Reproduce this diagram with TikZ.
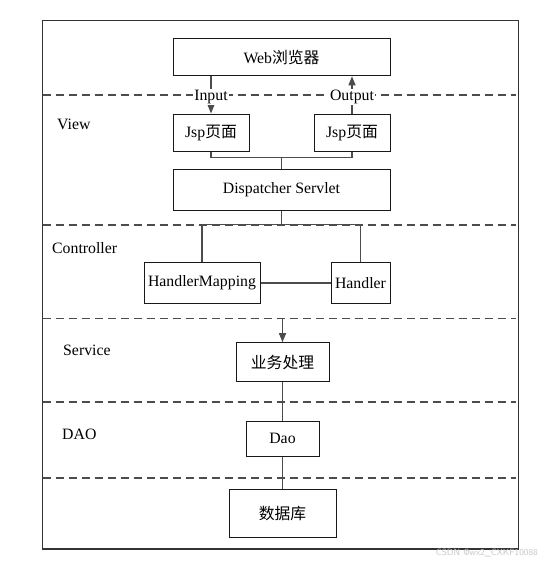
\documentclass[tikz,border=0pt]{standalone}
\usepackage{fontspec}
\setmainfont{Liberation Serif}
\newfontfamily\cjk{Noto Sans CJK SC}
\usetikzlibrary{arrows.meta}
\begin{document}
\begin{tikzpicture}[x=1pt,y=-1pt,
  every node/.style={font=\fontsize{15.8}{18}\selectfont},
  box/.style={draw=black!90,line width=1pt,inner sep=0pt,fill=white},
  conn/.style={draw=black!70,line width=1.3pt},
  arr/.style={conn,-{Triangle[length=9pt,width=7pt]}},
  sep/.style={draw=black!70,line width=1.1pt,dash pattern=on 8pt off 5pt},
  lay/.style={anchor=west,inner sep=0pt},
  lab/.style={fill=white,inner sep=1pt}]
\useasboundingbox (0,0) rectangle (540,566);
% frame
\draw[draw=black!80,line width=1.3pt] (42.6,20.5) rectangle (518.5,549);
% dashed separators
\draw[sep] (42.6,95) -- (516,95);
\draw[sep] (42.6,225) -- (516,225);
\draw[sep] (42.6,318.5) -- (516,318.5);
\draw[sep] (42.6,402) -- (516,402);
\draw[sep] (42.6,478) -- (516,478);
% boxes
\node[box,minimum width=217pt,minimum height=37pt] (web) at (281.5,57.3) {Web{\cjk 浏览器}};
\node[box,minimum width=76pt,minimum height=37pt] (jsp1) at (211,132.5) {Jsp{\cjk 页面}};
\node[box,minimum width=76pt,minimum height=37pt] (jsp2) at (352,132.5) {Jsp{\cjk 页面}};
\node[box,minimum width=217pt,minimum height=41pt] (ds) at (281.5,189.5) {Dispatcher Servlet};
\node[box,minimum width=116pt,minimum height=41pt] (hm) at (202,283) {HandlerMapping};
\node[box,minimum width=59pt,minimum height=41pt] (hd) at (360.5,283) {Handler};
\node[box,minimum width=93pt,minimum height=39pt] (svc) at (282.5,362.2) {\cjk 业务处理};
\node[box,minimum width=73pt,minimum height=34.5pt] (dao) at (282.5,438.8) {Dao};
\node[box,minimum width=107pt,minimum height=48pt] (db) at (282.5,513.5) {\cjk 数据库};
% layer labels
\node[lay] (lview) at (57,124) {View};
\node[lay] (lctl) at (52,248) {Controller};
\node[lay] (lsvc) at (63,350) {Service};
\node[lay] (ldao) at (62,434) {DAO};
% connectors
\draw[arr] (web.south -| jsp1.north) -- (jsp1.north);
\draw[arr] (jsp2.north) -- (web.south -| jsp2.north);
\node[lab] (in) at (211,97) {Input};
\node[lab] (out) at (352,97) {Output};
\coordinate (jbar) at (281.5,157.5);
\draw[conn] (jsp1.south) |- (jbar) -| (jsp2.south);
\draw[conn] (jbar) -- (ds.north);
\coordinate (cbar) at (281.5,224.5);
\draw[conn] (ds.south) -- (cbar);
\draw[conn] (hm.north) |- (cbar) -| (hd.north);
\draw[conn] (hm.east) -- (hd.west);
\coordinate (sv) at (282.5,318.5);
\draw[arr] (sv) -- (svc.north);
\draw[conn] (svc.south) -- (dao.north);
\draw[conn] (dao.south) -- (db.north);
% watermark
\node[anchor=east,inner sep=0pt,text=black!22,font=\sffamily\fontsize{9}{10}\selectfont] (wm) at (538,553) {CSDN @wx2\_CXKF10088};
\end{tikzpicture}
\end{document}
